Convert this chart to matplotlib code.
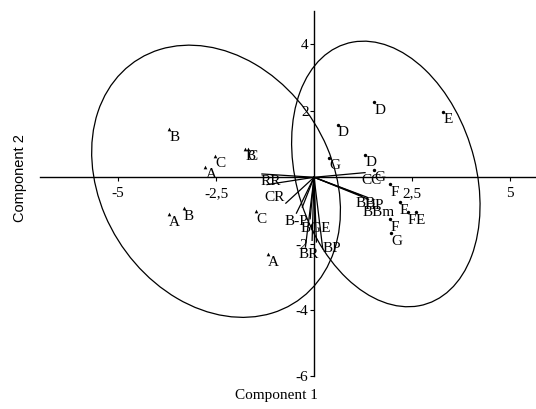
import matplotlib
matplotlib.use("Agg")
import matplotlib.pyplot as plt
from matplotlib.patches import Ellipse

# ---- data ----
grpA_labels = ["A", "A", "A", "B", "B", "B", "C", "C", "C"]
grpA_x = [-2.77, -3.71, -1.17, -3.69, -3.33, -1.75, -2.52, -1.47, -1.69]
grpA_y = [0.31, -1.11, -2.32, 1.45, -0.93, 0.86, 0.64, -1.02, 0.86]

grpB_labels = ["D", "D", "D", "E", "E", "E", "F", "F", "F", "G", "G", "G"]
grpB_x = [1.54, 0.60, 1.31, 3.29, 2.19, 2.60, 1.94, 2.39, 1.94, 0.39, 1.96, 1.54]
grpB_y = [2.26, 1.58, 0.68, 1.98, -0.75, -1.05, -0.21, -1.05, -1.27, 0.59, -1.69, 0.22]

vec_labels = ["RR", "", "CR", "B-P", "", "BGE", "BR", "", "BP", "", "CC", "BB", "HP", "BBm"]
vec_x = [-1.33, -1.20, -0.72, -0.45, -0.30, -0.10, -0.22, -0.05, 0.22, 0.06, 1.30, 1.20, 1.35, 1.38]
vec_y = [0.10, -0.22, -0.78, -1.08, -0.90, -1.25, -2.10, -1.90, -2.15, -1.95, 0.14, -0.55, -0.60, -0.66]

ell_center = [(-2.5, -0.12), (1.83, 0.10)]
ell_width = [8.44, 8.12]
ell_height = [6.02, 4.60]
ell_angle = [-70.2, -78.0]

xticks = [-5, -2.5, 2.5, 5]
xticklabels = ["-5", "-2,5", "2,5", "5"]
yticks = [-6, -4, -2, 2, 4]
yticklabels = ["-6", "-4", "-2", "2", "4"]

# ---- style ----
serif = "Liberation Serif"
sans = "Liberation Sans"
fs = 11

fig = plt.figure(figsize=(5.36, 4.09), dpi=100)
ax = fig.add_axes([0, 0, 1, 1])
ax.set_xlim(-8.01, 5.66)
ax.set_ylim(-6.98, 5.34)
ax.patch.set_alpha(0)

for s in ["top", "right"]:
    ax.spines[s].set_visible(False)
ax.spines["left"].set_position(("data", 0))
ax.spines["bottom"].set_position(("data", 0))
ax.spines["left"].set_bounds(-6, 5)
ax.spines["bottom"].set_bounds(-7, 5.66)
for s in ["left", "bottom"]:
    ax.spines[s].set_linewidth(1.0)

ax.set_xticks(xticks)
ax.set_xticklabels(xticklabels, fontfamily=serif, fontsize=fs)
ax.set_yticks(yticks)
ax.set_yticklabels(yticklabels, fontfamily=serif, fontsize=fs)
ax.tick_params(axis="both", direction="out", length=3, width=0.8)
ax.tick_params(axis="x", pad=4)
ax.tick_params(axis="y", pad=1)

# ellipses
for c, w, h, a in zip(ell_center, ell_width, ell_height, ell_angle):
    ax.add_patch(Ellipse(c, w, h, angle=a, fill=False, ec="black", lw=0.9))

# vectors
vec_align = [("left", "top", -1, -1), ("left", "top", 0, 0), ("right", "center", -1, 4),
             ("center", "top", 0, -1), ("left", "top", 0, 0), ("center", "top", 4, -2),
             ("center", "top", 2, -1), ("left", "top", 0, 0), ("left", "center", 0, 0),
             ("left", "top", 0, 0), ("left", "top", -3, -1), ("left", "top", -4, -1),
             ("left", "top", -2, -1), ("left", "top", -4, -5)]
for lab, x, y, (ha, va, dx, dy) in zip(vec_labels, vec_x, vec_y, vec_align):
    ax.plot([0, x], [0, y], color="black", lw=0.9)
    if lab:
        ax.annotate(lab, (x, y), xytext=(dx, dy), textcoords="offset points",
                    ha=ha, va=va, fontfamily=serif, fontsize=fs)

# points
ax.scatter(grpA_x, grpA_y, marker="^", s=7, color="black", linewidths=0)
for lab, x, y in zip(grpA_labels, grpA_x, grpA_y):
    ax.annotate(lab, (x, y), xytext=(0, -1), textcoords="offset points",
                ha="left", va="top", fontfamily=serif, fontsize=fs)
ax.scatter(grpB_x, grpB_y, marker="o", s=6, color="black", linewidths=0)
for lab, x, y in zip(grpB_labels, grpB_x, grpB_y):
    ax.annotate(lab, (x, y), xytext=(0, -1), textcoords="offset points",
                ha="left", va="top", fontfamily=serif, fontsize=fs)

fig.text(276 / 536, 1 - 396 / 409, "Component 1", ha="center", va="center",
         fontfamily=serif, fontsize=fs)
fig.text(20 / 536, 1 - 178 / 409, "Component 2", ha="center", va="center",
         rotation=90, fontfamily=sans, fontsize=fs - 0.5)

fig.savefig("out.png", dpi=100, facecolor="white")
